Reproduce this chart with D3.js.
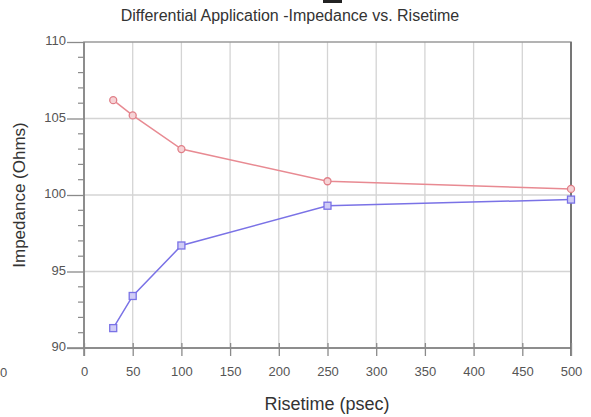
<!DOCTYPE html>
<html><head><meta charset="utf-8">
<script src="https://cdn.jsdelivr.net/npm/d3@7"></script>
<style>body{margin:0;background:#fff}svg{display:block}text{font-family:"Liberation Sans",Arial,sans-serif}</style>
</head><body><svg id="c" width="591" height="417"></svg>
<script>
const risetime = [30, 50, 100, 250, 500];
const seriesA = [106.2, 105.2, 103.0, 100.9, 100.4];
const seriesB = [91.3, 93.4, 96.7, 99.3, 99.7];
const xTicks = [0,50,100,150,200,250,300,350,400,450,500];
const yTicks = [90,95,100,105,110];
const yMinor = d3.range(90,111,1);

const svg = d3.select("#c");
const m = {l:84, r:571, t:42, b:348};
const x = d3.scaleLinear().domain([0,500]).range([m.l,m.r]);
const y = d3.scaleLinear().domain([90,110]).range([m.b,m.t]);

// grid
svg.append("g").selectAll("line").data(xTicks.slice(1,-1)).join("line")
  .attr("x1",d=>x(d)).attr("x2",d=>x(d)).attr("y1",m.t).attr("y2",m.b)
  .attr("stroke","#d4d4d4").attr("stroke-width",1.3);
svg.append("g").selectAll("line").data(yTicks.slice(1,-1)).join("line")
  .attr("x1",m.l).attr("x2",m.r).attr("y1",d=>y(d)).attr("y2",d=>y(d))
  .attr("stroke","#d4d4d4").attr("stroke-width",1.3);

// frame
svg.append("rect").attr("x",m.l).attr("y",m.t).attr("width",m.r-m.l).attr("height",m.b-m.t)
  .attr("fill","none").attr("stroke","#9a9a9a").attr("stroke-width",1.5);
svg.append("line").attr("x1",m.l).attr("x2",m.l).attr("y1",m.t).attr("y2",m.b+8).attr("stroke","#808080").attr("stroke-width",1.5);
svg.append("line").attr("x1",m.l-17).attr("x2",m.r).attr("y1",m.b).attr("y2",m.b).attr("stroke","#808080").attr("stroke-width",1.5);
svg.append("line").attr("x1",m.r).attr("x2",m.r).attr("y1",m.t).attr("y2",m.b+8).attr("stroke","#707070").attr("stroke-width",1.8);

// y axis
const ya = d3.axisLeft(y).tickValues(yTicks).tickSize(17).tickPadding(1).tickFormat(d3.format("d"));
const yg = svg.append("g").attr("transform",`translate(${m.l},0)`).call(ya);
yg.select(".domain").remove();
yg.selectAll(".tick line").attr("stroke","#8a8a8a").attr("stroke-width",1.3);
yg.selectAll(".tick text").attr("fill","#555").style("font-size","13px").attr("dy","0.2em");
svg.append("g").selectAll("line").data(yMinor.filter(d=>d%5)).join("line")
  .attr("x1",m.l-6).attr("x2",m.l).attr("y1",d=>y(d)).attr("y2",d=>y(d))
  .attr("stroke","#8a8a8a").attr("stroke-width",1.2);

// x axis
const xa = d3.axisBottom(x).tickValues(xTicks).tickSize(8).tickPadding(11).tickFormat(d3.format("d"));
const xg = svg.append("g").attr("transform",`translate(0,${m.b})`).call(xa);
xg.select(".domain").remove();
xg.selectAll(".tick line").attr("stroke","#8a8a8a").attr("stroke-width",1.3).attr("y1",-5);
xg.selectAll(".tick text").attr("fill","#555").style("font-size","13px");

// titles
svg.append("text").attr("x",290).attr("y",21).attr("text-anchor","middle").attr("fill","#333")
  .style("font-size","16px").text("Differential Application -Impedance vs. Risetime");
svg.append("text").attr("x",327).attr("y",410).attr("text-anchor","middle").attr("fill","#333")
  .style("font-size","18px").text("Risetime (psec)");
svg.append("text").attr("transform","translate(25,195) rotate(-90)").attr("text-anchor","middle").attr("fill","#333")
  .style("font-size","17px").text("Impedance (Ohms)");
svg.append("text").attr("x",0).attr("y",377).attr("fill","#555").style("font-size","13px").text("0");
svg.append("rect").attr("x",323).attr("y",0).attr("width",19).attr("height",3).attr("fill","#222");

// series
const line = d3.line().x((d,i)=>x(risetime[i])).y(d=>y(d));
svg.append("path").datum(seriesA).attr("d",line).attr("fill","none").attr("stroke","#e88a92").attr("stroke-width",1.5);
svg.append("path").datum(seriesB).attr("d",line).attr("fill","none").attr("stroke","#7a72e6").attr("stroke-width",1.5);
svg.append("g").selectAll("circle").data(seriesA).join("circle")
  .attr("cx",(d,i)=>x(risetime[i])).attr("cy",d=>y(d)).attr("r",3.5)
  .attr("fill","#f6d3d6").attr("stroke","#e07f88").attr("stroke-width",1.3);
svg.append("g").selectAll("rect").data(seriesB).join("rect")
  .attr("x",(d,i)=>x(risetime[i])-3.5).attr("y",d=>y(d)-3.5).attr("width",7).attr("height",7)
  .attr("fill","#d0ccf6").attr("stroke","#7a72e6").attr("stroke-width",1.3);
</script></body></html>
